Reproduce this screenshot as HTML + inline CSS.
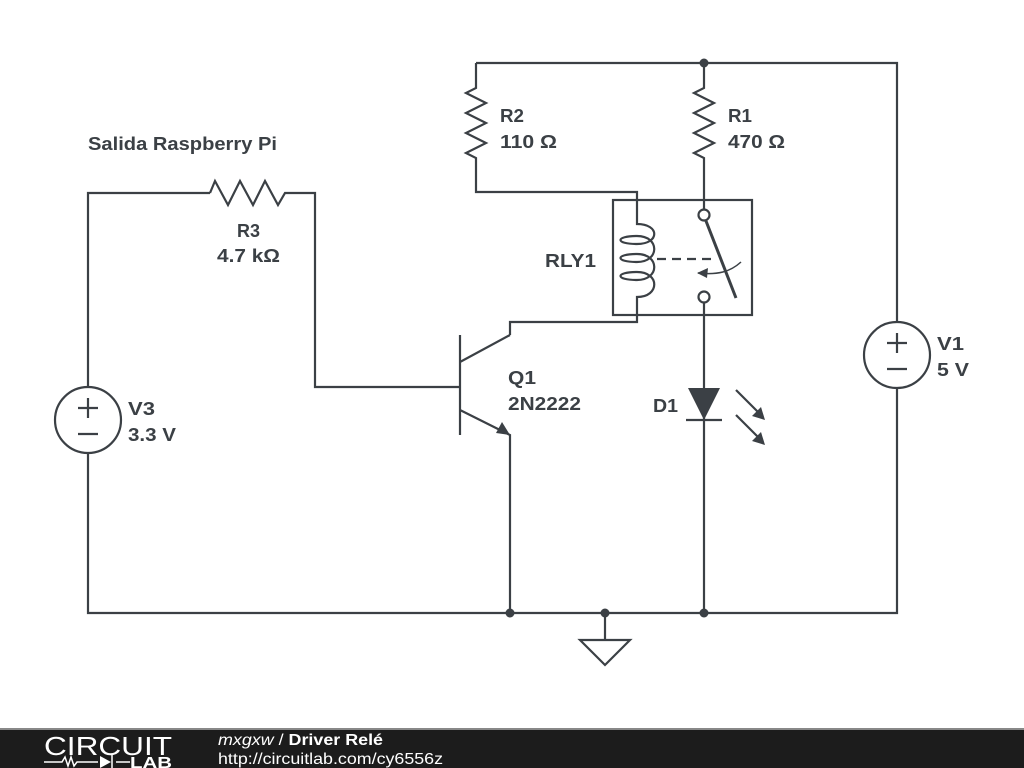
<!DOCTYPE html>
<html><head><meta charset="utf-8"><style>
html,body{margin:0;padding:0;background:#fff;width:1024px;height:768px;overflow:hidden}
text{font-family:"Liberation Sans",sans-serif;font-weight:bold;font-size:18px;fill:#3b4045}
</style></head><body>
<svg width="1024" height="768" viewBox="0 0 1024 768" xmlns="http://www.w3.org/2000/svg">
<g fill="none" stroke="#3b4045" stroke-width="2.2" stroke-linejoin="miter">
<path d="M476 63H897V322M897 388V613H88V453M88 387V193H210"/>
<path d="M476 63V88L466 93L486 103L466 113L486 123L466 133L486 143L466 153L476 158V192H637V215"/>
<path d="M704 63V88L694 93L714 103L694 113L714 123L694 133L714 143L694 153L704 158V210"/>
<path d="M210 193L215 181L228 205L240 181L253 205L265 181L278 205L285 193H315V387H460"/>
<rect x="613" y="200" width="139" height="115"/>
<path d="M637 215V224 C660 224 660 244 637 244 C615 244 615 236 637 236 C660 236 660 262 637 262 C615 262 615 254 637 254 C660 254 660 280 637 280 C615 280 615 272 637 272 C660 272 660 297 637 297 V322H510V335"/>
<circle cx="704" cy="215" r="5.5"/>
<circle cx="704" cy="297" r="5.5"/>
<path d="M704 303V613"/>
<path d="M706 221L736 298" stroke-width="3"/>
<path d="M657 259H712" stroke-dasharray="9,6"/>
<path d="M741 262C730 272 718 275 698 273" stroke-width="1.5"/>
<path d="M460 335V435M460 362L510 335M460 410L510 435V613"/>
<circle cx="88" cy="420" r="33"/>
<circle cx="897" cy="355" r="33"/>
<path d="M78 408H98M88 398V418M78 434H98"/>
<path d="M887 343H907M897 333V353M887 369H907"/>
<path d="M686 420H722"/>
<path d="M736 390L760 414M736 415L760 439"/>
<path d="M605 613V640M580 640H630L605 665Z"/>
</g>
<g fill="#3b4045">
<polygon points="688,388 720,388 704,420"/>
<polygon points="496,433 510,435 502,422"/>
<polygon points="697,273 708,268 707,278"/>
<polygon points="765,420 752,416 761,407"/>
<polygon points="765,445 752,441 761,432"/>
<circle cx="704" cy="63" r="4.5"/>
<circle cx="510" cy="613" r="4.5"/>
<circle cx="605" cy="613" r="4.5"/>
<circle cx="704" cy="613" r="4.5"/>
</g>
<text x="88" y="150" textLength="189" lengthAdjust="spacingAndGlyphs">Salida Raspberry Pi</text>
<text x="237" y="237" textLength="23" lengthAdjust="spacingAndGlyphs">R3</text>
<text x="217" y="262" textLength="63" lengthAdjust="spacingAndGlyphs">4.7 kΩ</text>
<text x="500" y="122" textLength="24" lengthAdjust="spacingAndGlyphs">R2</text><text x="500" y="148" textLength="57" lengthAdjust="spacingAndGlyphs">110 Ω</text>
<text x="728" y="122" textLength="24" lengthAdjust="spacingAndGlyphs">R1</text><text x="728" y="148" textLength="57" lengthAdjust="spacingAndGlyphs">470 Ω</text>
<text x="545" y="267" textLength="51" lengthAdjust="spacingAndGlyphs">RLY1</text>
<text x="508" y="384" textLength="28" lengthAdjust="spacingAndGlyphs">Q1</text><text x="508" y="410" textLength="73" lengthAdjust="spacingAndGlyphs">2N2222</text>
<text x="653" y="412" textLength="25" lengthAdjust="spacingAndGlyphs">D1</text>
<text x="128" y="415" textLength="27" lengthAdjust="spacingAndGlyphs">V3</text><text x="128" y="441" textLength="48" lengthAdjust="spacingAndGlyphs">3.3 V</text>
<text x="937" y="350" textLength="27" lengthAdjust="spacingAndGlyphs">V1</text><text x="937" y="376" textLength="32" lengthAdjust="spacingAndGlyphs">5 V</text>
<rect x="0" y="729" width="1024" height="39" fill="#1c1c1c"/>
<rect x="0" y="728" width="1024" height="2" fill="#888"/>
<text x="44" y="755" textLength="128" lengthAdjust="spacingAndGlyphs" style="font-weight:normal;font-size:26px;fill:#fff">CIRCUIT</text>
<path d="M44 762H62L65 757L68 766L71 757L74 766L77 762H98M112 755V768M116 762H130" stroke="#fff" stroke-width="1.5" fill="none"/>
<polygon points="100,756 100,768 111,762" fill="#fff"/>
<text x="130" y="768" textLength="42" lengthAdjust="spacingAndGlyphs" style="font-size:16px;fill:#fff">LAB</text>
<text x="218" y="745" textLength="165" lengthAdjust="spacingAndGlyphs" style="font-size:16px;fill:#fff"><tspan style="font-style:italic;font-weight:normal">mxgxw</tspan><tspan style="font-weight:normal"> / </tspan>Driver Relé</text>
<text x="218" y="764" textLength="225" lengthAdjust="spacingAndGlyphs" style="font-size:16px;font-weight:normal;fill:#fff">http://circuitlab.com/cy6556z</text>
</svg>
</body></html>
